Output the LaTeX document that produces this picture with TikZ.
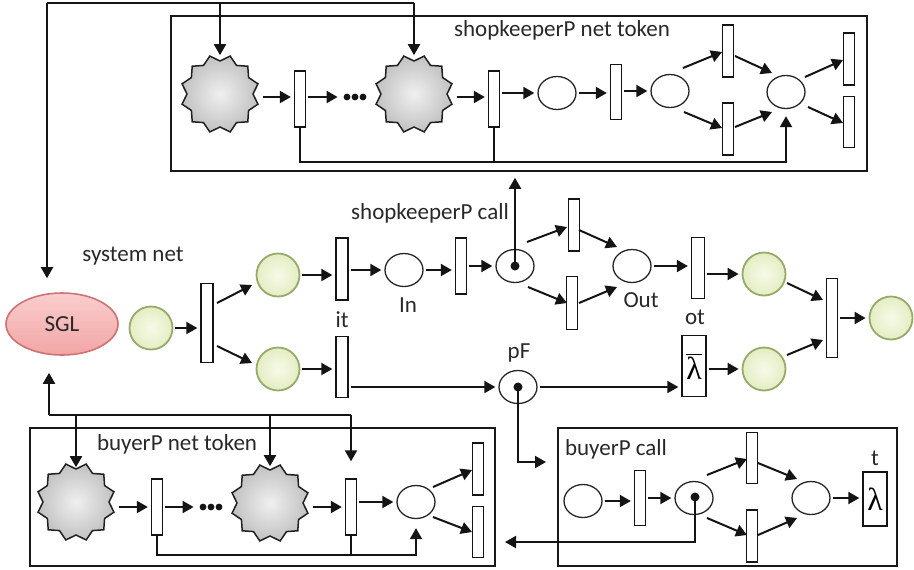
\documentclass[tikz,border=0pt]{standalone}
\usepackage{fontspec}
\setmainfont{Carlito}
\newfontfamily\lamfont{Liberation Serif}
\usetikzlibrary{arrows.meta,shapes.geometric,calc}
\definecolor{txt}{RGB}{40,40,40}
\definecolor{gin}{RGB}{247,250,232}
\definecolor{gout}{RGB}{228,237,195}
\definecolor{gbd}{RGB}{150,170,105}
\definecolor{pin}{RGB}{250,205,205}
\definecolor{pout}{RGB}{242,165,165}
\definecolor{pbd}{RGB}{205,115,115}
\definecolor{ln}{RGB}{20,20,20}
\begin{document}
\begin{tikzpicture}[x=0.5pt,y=-0.5pt,
 line/.style={draw=ln, line width=1pt},
 arr/.style={line, -{Triangle[length=5.5pt,width=6pt]}},
 harr/.style={arr, shorten <=1pt, shorten >=1.5pt},
 box/.style={draw=gray!20!black, line width=0.75pt, inner sep=0},
 trans/.style={draw=ln, line width=0.65pt, fill=white, inner sep=0, minimum width=5.5pt, minimum height=#1},
 lam/.style={draw=ln, line width=0.65pt, fill=white, inner sep=0, minimum width=12pt, minimum height=#1},
 pl/.style={draw=gray!30!black, line width=0.65pt, ellipse, inner sep=0, minimum width=19pt, minimum height=16.5pt},
 gp/.style={circle, draw=gbd, line width=0.9pt, inner color=gin, outer color=gout, inner sep=0, minimum size=21.5pt},
 dot/.style={circle, fill=ln, inner sep=0, minimum size=4.5pt},
 starnode/.style={star, star points=12, star point ratio=0.84, inner sep=0, minimum size=33pt, draw=gray!25!black, line width=0.75pt, inner color=gray!12, outer color=gray!48},
 dotsnode/.style={inner sep=0, minimum width=14pt, minimum height=4pt},
 lbl/.style={font=\fontsize{11.5}{13}\selectfont, text=txt, inner sep=0, anchor=base},
 lamtxt/.style={font=\lamfont\fontsize{16}{16}\selectfont}
]
\useasboundingbox (0,0) rectangle (914,569);

% frames
\node[box, minimum width=348pt, minimum height=77.5pt] (topbox) at (519,93.5) {};
\node[box, minimum width=232.5pt, minimum height=69pt] (blbox) at (262.5,497) {};
\node[box, minimum width=169.5pt, minimum height=69pt] (brbox) at (727.5,497) {};

% labels
\node[lbl] (ttl1) at (562,36) {shopkeeperP net token};
\node[lbl] (ttl2) at (177,450) {buyerP net token};
\node[lbl] (ttl3) at (616,455) {buyerP call};
\node[lbl] (ttl4) at (133,261) {system net};
\node[lbl] (ttl5) at (430,219) {shopkeeperP call};
\node[lbl] (lIn) at (408,312) {In};
\node[lbl] (lit) at (342,327) {it};
\node[lbl] (lOut) at (641,307) {Out};
\node[lbl] (lot) at (695,324) {ot};
\node[lbl] (lpF) at (519,358) {pF};
\node[lbl] (lt) at (875,465) {t};

% SGL
\node[ellipse, draw=pbd, line width=0.8pt, top color=pin, bottom color=pout, minimum width=56pt, minimum height=31pt, inner sep=0, font=\fontsize{11.5}{13}\selectfont, text=txt] (SGL) at (62,324) {SGL};

% stars
\node[starnode] (S1) at (220,94) {};
\node[starnode] (S2) at (414,94) {};
\node[starnode] (B1) at (76,502) {};
\node[starnode] (B2) at (270,503) {};

% top net
\node[trans=28pt] (TT1) at (300,99) {};
\node[dotsnode] (dots1) at (355,97) {};
\node[trans=28pt] (TT2) at (494,99) {};
\node[pl] (TP1) at (557,93) {};
\node[trans=27.5pt] (TT3) at (616,92) {};
\node[pl] (TP2) at (670,91) {};
\node[trans=26pt] (TT4) at (728,51) {};
\node[trans=26pt] (TT5) at (728,129) {};
\node[pl] (TP3) at (786,92) {};
\node[trans=26pt] (TT6) at (849,59) {};
\node[trans=25.5pt] (TT7) at (849,122) {};

% system net
\node[gp] (G1) at (151,328) {};
\node[trans=39.5pt, minimum width=6pt] (TA) at (207,323) {};
\node[gp] (G2) at (278,275) {};
\node[gp] (G3) at (278,369) {};
\node[trans=31pt, minimum width=6pt] (TB) at (342,269) {};
\node[pl] (PIn) at (404,270) {};
\node[trans=30.5pt, minimum width=6pt] (TC) at (342,367) {};
\node[trans=28pt] (TD) at (461,266) {};
\node[pl] (Pc) at (515,266) {};
\node[dot] (Pcdot) at (515,266) {};
\node[trans=26pt] (TE) at (574,225) {};
\node[trans=26.5pt] (TF) at (572,303) {};
\node[pl] (POut) at (632,266) {};
\node[trans=30.5pt, minimum width=6.5pt] (TG) at (698,268) {};
\node[gp] (G4) at (764,274) {};
\node[pl] (pF) at (518,387) {};
\node[dot] (pFdot) at (518,387) {};
\node[lam=30.5pt, lamtxt] (Lam1) at (694,366) {$\overline{\hbox{λ}}$};
\node[gp] (G5) at (764,369) {};
\node[trans=39.5pt] (TH) at (832,318) {};
\node[gp] (G6) at (891,318) {};

% bottom left net
\node[trans=28pt] (TB1) at (157,507) {};
\node[dotsnode] (dots2) at (211,507) {};
\node[trans=28pt] (TB2) at (351,507) {};
\node[pl] (PB) at (416,502) {};
\node[trans=26pt] (TB3) at (478,469) {};
\node[trans=25.5pt] (TB4) at (478,532) {};

% bottom right net
\node[pl] (PC1) at (583,501) {};
\node[trans=27.5pt] (TC1) at (640,498) {};
\node[pl] (PC2) at (694,498) {};
\node[dot] (PC2dot) at (695,497) {};
\node[trans=25.5pt] (TC2) at (752,458) {};
\node[trans=26pt] (TC3) at (752,536) {};
\node[pl] (PC3) at (811,498) {};
\node[lam=27pt, lamtxt] (Lam2) at (875,499) {λ};

% ellipsis dots
\foreach \d in {-8,0,8} {\fill[ln] ($(dots1)+(\d,0)$) circle (1.7pt); \fill[ln] ($(dots2)+(\d,0)$) circle (1.7pt);}

% free-end coordinates
\coordinate (tl) at (47,3);
\coordinate (bl) at (49,415);
\coordinate (trl) at (0,162);
\coordinate (brl) at (0,555);
\coordinate (bcin) at (546,462);
\coordinate (bret) at (505,542);

% SGL feed lines
\draw[line] (tl -| S2) -- (tl);
\draw[arr, shorten >=7pt] (tl) -- (tl |- SGL.north);
\draw[arr, shorten >=2.5pt] (tl -| S1) -- (S1.north);
\draw[arr, shorten >=2.5pt] (tl -| S2) -- (S2.north);
\draw[line] (bl) -- (bl -| TB2);
\draw[arr, shorten >=8.5pt] (bl) -- (bl |- SGL.south);
\draw[arr, shorten >=0.5pt] (bl -| B1) -- (B1.north);
\draw[arr, shorten >=1.5pt] (bl -| B2) -- (B2.north);
\draw[arr, shorten >=8.5pt] (bl -| TB2) -- (TB2.north);

% top net arcs
\draw[harr] ($(S1)+(41,3)$) -- (TT1.west |- dots1);
\draw[harr] (TT1.east |- dots1) -- (dots1.west);
\draw[harr] ($(S2)+(41,3)$) -- ($(TT2.west)+(0,-2)$);
\draw[harr] (TT2.east |- TP1) -- (TP1.west);
\draw[harr] (TP1.east) -- (TP1.east -| TT3.west);
\draw[harr] (TT3.east |- TP2) -- (TP2.west);
\draw[arr] ($(TP2)+(13,-23)$) -- ($(TT4)+(-6,1)$);
\draw[arr] ($(TP2)+(14,21)$) -- ($(TT5)+(-6,-1)$);
\draw[arr] ($(TT4)+(7,5)$) -- ($(TP3)+(-14,-19)$);
\draw[arr] ($(TT5)+(7,-2)$) -- ($(TP3)+(-14,20)$);
\draw[arr] ($(TP3)+(19,-15)$) -- ($(TT6)+(-6,1)$);
\draw[arr] ($(TP3)+(22,15)$) -- ($(TT7)+(-6,1)$);
\draw[arr, shorten >=3.5pt] (TT1.south) |- (TP3 |- trl) -- (TP3.south);
\draw[line] (TT2.south) -- (TT2 |- trl);

% system net arcs
\draw[harr] (G1.east) -- (G1.east -| TA.west);
\draw[arr] ($(TA)+(10,-20)$) -- ($(G2)+(-26,10)$);
\draw[arr] ($(TA)+(10,23)$) -- ($(G3)+(-26,-6)$);
\draw[harr] (G2.east) -- (G2.east -| TB.west);
\draw[harr] (TB.east |- PIn) -- (PIn.west);
\draw[harr] (PIn.east) -- (PIn.east -| TD.west);
\draw[harr] (TD.east |- Pc) -- (Pc.west);
\draw[arr] ($(Pc)+(12,-24)$) -- ($(TE)+(-7,2)$);
\draw[arr] ($(Pc)+(13,21)$) -- ($(TF)+(-5,0)$);
\draw[arr] ($(TE)+(5,5)$) -- ($(POut)+(-15,-19)$);
\draw[arr] ($(TF)+(7,0)$) -- ($(POut)+(-15,21)$);
\draw[harr] (POut.east) -- (POut.east -| TG.west);
\draw[harr] (TG.east |- G4) -- (G4.west);
\draw[arr] ($(G4)+(23,9)$) -- ($(TH)+(-9,-18)$);
\draw[harr] (G3.east) -- (G3.east -| TC.west);
\draw[harr] (TC.east |- pF) -- (pF.west);
\draw[harr] (pF.east) -- (pF.east -| Lam1.west);
\draw[harr] (Lam1.east |- G5) -- (G5.west);
\draw[arr] ($(G5)+(23,-14)$) -- ($(TH)+(-9,22)$);
\draw[harr] (TH.east |- G6) -- (G6.west);
\draw[arr, shorten >=3pt] (Pcdot.center) -- (Pcdot |- topbox.south);
\draw[arr] (pFdot.center) |- (bcin);

% bottom left arcs
\draw[harr] ($(B1)+(41,5)$) -- (TB1.west);
\draw[harr] (TB1.east |- dots2) -- (dots2.west);
\draw[harr] ($(B2)+(41,4)$) -- (TB2.west);
\draw[harr] (TB2.east |- PB) -- (PB.west);
\draw[arr] ($(PB)+(17,-15)$) -- ($(TB3)+(-6,1)$);
\draw[arr] ($(PB)+(17,15)$) -- ($(TB4)+(-6,0)$);
\draw[arr, shorten >=4.5pt] (TB1.south) |- (PB |- brl) -- (PB.south);
\draw[line] (TB2.south) -- (TB2 |- brl);

% bottom right arcs
\draw[harr] (PC1.east) -- (PC1.east -| TC1.west);
\draw[harr] (TC1.east |- PC2) -- (PC2.west);
\draw[arr] ($(PC2)+(13,-23)$) -- ($(TC2)+(-5,1)$);
\draw[arr] ($(PC2)+(13,20)$) -- ($(TC3)+(-5,-1)$);
\draw[arr] ($(TC2)+(6,5)$) -- ($(PC3)+(-14,-19)$);
\draw[arr] ($(TC3)+(6,-1)$) -- ($(PC3)+(-14,20)$);
\draw[harr] (PC3.east) -- (PC3.east -| Lam2.west);
\draw[arr] (PC2dot.center) |- (bret);
\end{tikzpicture}
\end{document}
